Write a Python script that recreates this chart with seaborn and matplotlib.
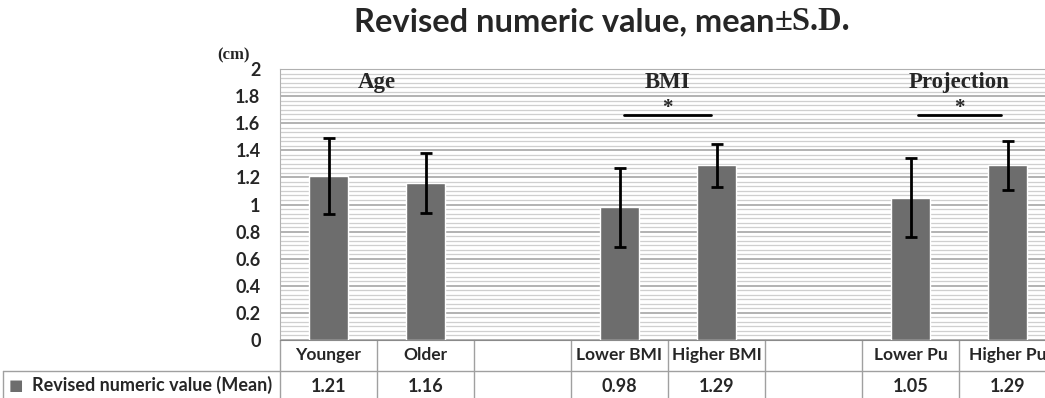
import numpy as np
import pandas as pd
import seaborn as sns
import matplotlib.pyplot as plt

# 数据
categories = ["Younger", "Older", "", "Lower BMI", "Higher BMI", " ", "Lower Pu", "Higher Pu"]
means = [1.21, 1.16, np.nan, 0.98, 1.29, np.nan, 1.05, 1.29]
sds = [0.28, 0.22, np.nan, 0.29, 0.16, np.nan, 0.29, 0.18]
value_labels = ["1.21", "1.16", "", "0.98", "1.29", "", "1.05", "1.29"]
group_names = ["Age", "BMI", "Projection"]
group_pos = [0.5, 3.5, 6.5]
# 显著性标记 (起点, 终点, 高度)
sig_x0 = [3.05, 6.08]
sig_x1 = [3.94, 6.93]
sig_y = [1.66, 1.66]
y_ticks = [0, 0.2, 0.4, 0.6, 0.8, 1, 1.2, 1.4, 1.6, 1.8, 2]

sns.set_style("white")
plt.rcParams['font.family'] = ['Lato', 'DejaVu Sans']

df = pd.DataFrame({'cat': categories, 'mean': means})

W, H = 1045, 398
fig = plt.figure(figsize=(W / 100, H / 100), dpi=100)
ax = fig.add_axes([280 / W, 58 / H, 776 / W, 271 / H])

sns.barplot(data=df, x='cat', y='mean', order=categories, color='#6d6d6d',
            saturation=1, width=0.4, ax=ax, zorder=3)
xs = np.arange(len(categories))
ax.errorbar(xs, means, yerr=sds, fmt='none', ecolor='black', elinewidth=2,
            capsize=4, capthick=2, zorder=4)

ax.set_xlim(-0.5, len(categories) - 0.5)
ax.set_ylim(0, 2)
ax.set_xticks([])
ax.set_xlabel('')
ax.set_ylabel('')
ax.set_yticks(y_ticks)
ax.set_yticklabels([f"{v:g}" for v in y_ticks], fontsize=13, fontweight='bold')
ax.set_yticks(np.arange(0, 2, 0.2 / 6), minor=True)
ax.tick_params(axis='y', which='both', length=0, pad=14)
ax.grid(which='minor', axis='y', color='#cfcfcf', lw=0.9)
ax.grid(which='major', axis='y', color='#9e9e9e', lw=1.1)
ax.set_axisbelow(True)
for s in ['top', 'left', 'right']:
    ax.spines[s].set_color('#b0b0b0')
ax.spines['bottom'].set_color('#8a8a8a')

# 分组标题和显著性
for name, p in zip(group_names, group_pos):
    ax.text(p, 1.9, name, ha='center', va='center', fontsize=16.5,
            fontweight='bold', family='Liberation Serif')
for a, b, yy in zip(sig_x0, sig_x1, sig_y):
    ax.plot([a, b], [yy, yy], color='black', lw=2, clip_on=False)
    ax.text((a + b) / 2, yy + 0.055, '*', ha='center', va='center', fontsize=15,
            fontweight='bold', family='Liberation Serif')

# 表格
tr = ax.get_xaxis_transform()
line_c = '#a0a0a0'
for b in np.arange(-0.5, len(categories), 1):
    ax.plot([b, b], [0, -0.3], color=line_c, lw=1, transform=tr, clip_on=False)
ax.plot([-0.5, len(categories) - 0.5], [-0.114, -0.114], color=line_c, lw=1,
        transform=tr, clip_on=False)
for i, (c, v) in enumerate(zip(categories, value_labels)):
    ax.text(i, -0.057, c.strip(), ha='center', va='center', fontsize=12.5,
            fontweight='bold', transform=tr)
    ax.text(i, -0.172, v, ha='center', va='center', fontsize=13,
            fontweight='bold', transform=tr)
fig.add_artist(plt.Line2D([3 / W, 280 / W], [27 / H, 27 / H], color=line_c, lw=1))
fig.add_artist(plt.Line2D([3 / W, 3 / W], [0, 27 / H], color=line_c, lw=1))
fig.text(9 / W, 13 / H, '■', color='#6d6d6d', fontsize=11, va='center',
         family='DejaVu Sans')
fig.text(32 / W, 13 / H, 'Revised numeric value (Mean)', fontsize=13,
         fontweight='bold', va='center')

# 标题
fig.text(775 / W, 376 / H, 'Revised numeric value, mean', ha='right', va='center',
         fontsize=23.5, fontweight='bold')
fig.text(775 / W, 376 / H, '±S.D.', ha='left', va='center', fontsize=23.5,
         fontweight='bold', family='Liberation Serif')
fig.text(234 / W, 343 / H, '(cm)', ha='center', va='center', fontsize=12,
         fontweight='bold', family='Liberation Serif')

fig.savefig('out.png', dpi=100)
